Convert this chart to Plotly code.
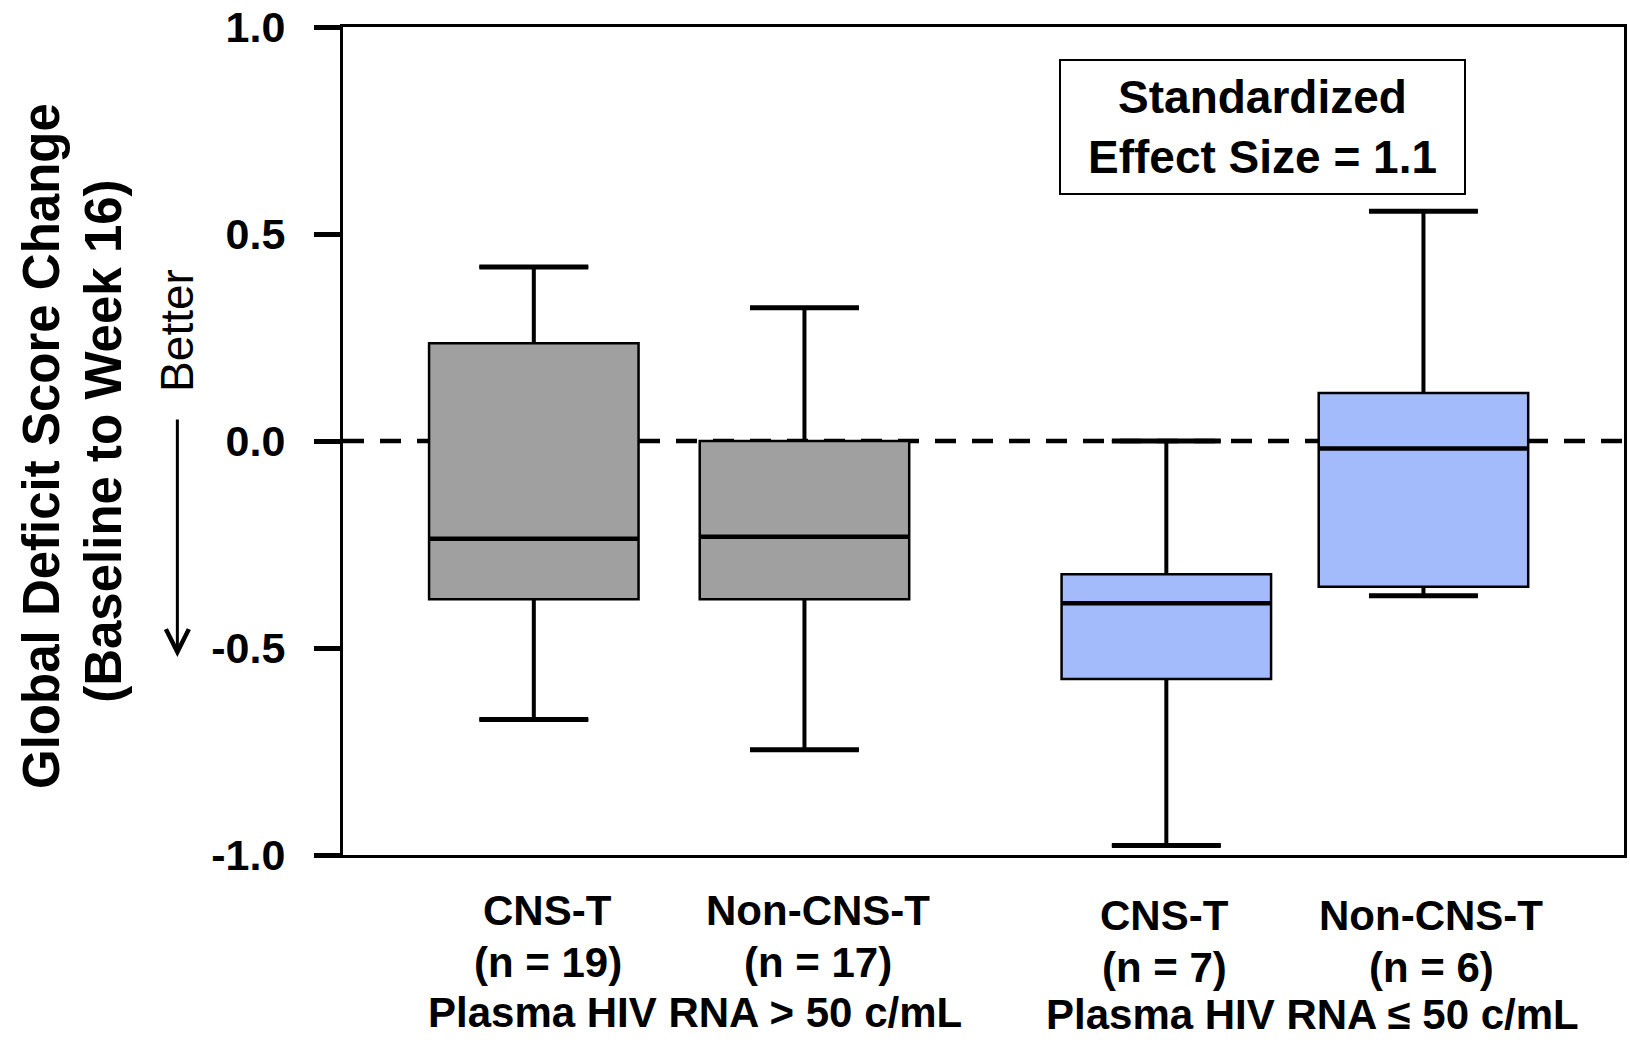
import plotly.graph_objects as go

# ---------------- data ----------------
groups = ["CNS-T", "Non-CNS-T", "CNS-T", "Non-CNS-T"]
n_labels = ["(n = 19)", "(n = 17)", "(n = 7)", "(n = 6)"]
plasma_labels = ["Plasma HIV RNA > 50 c/mL", "Plasma HIV RNA ≤ 50 c/mL"]

upper_whisker = [0.42, 0.322, 0.0, 0.555]
q3 = [0.236, 0.0, -0.322, 0.116]
median = [-0.236, -0.231, -0.392, -0.018]
q1 = [-0.382, -0.382, -0.575, -0.352]
lower_whisker = [-0.673, -0.746, -0.977, -0.374]

y_ticks = [-1.0, -0.5, 0.0, 0.5, 1.0]
y_tick_labels = ["-1.0", "-0.5", "0.0", "0.5", "1.0"]
reference_value = 0.0
effect_size = 1.1

# ---------------- layout helpers ----------------
x_pos = [1.0, 2.0, 3.337, 4.287]
box_width = 0.774
cap_frac = 0.52
gray = "#A0A0A0"
blue = "#A3BBFB"
FONT = "Liberation Sans, Arial, sans-serif"

fig = go.Figure()

# dashed reference line at zero (behind boxes)
fig.add_shape(type="line", xref="paper", x0=0, x1=1, yref="y",
              y0=reference_value, y1=reference_value,
              line=dict(color="black", width=4.5, dash="21px,16px"), layer="below")

# thicker whisker stems (drawn under boxes)
wx, wy = [], []
for i, p in enumerate(x_pos):
    wx += [p, p, None, p, p, None]
    wy += [q3[i], upper_whisker[i], None, q1[i], lower_whisker[i], None]
fig.add_trace(go.Scatter(x=wx, y=wy, mode="lines", line=dict(color="black", width=4),
                         showlegend=False, hoverinfo="skip"))

# gray boxes (plasma > 50) and blue boxes (plasma <= 50)
for idx, color in (([0, 1], gray), ([2, 3], blue)):
    fig.add_trace(go.Box(
        x=[x_pos[i] for i in idx],
        q1=[q1[i] for i in idx],
        median=[median[i] for i in idx],
        q3=[q3[i] for i in idx],
        lowerfence=[lower_whisker[i] for i in idx],
        upperfence=[upper_whisker[i] for i in idx],
        width=box_width,
        whiskerwidth=cap_frac,
        fillcolor=color,
        line=dict(color="black", width=2.5),
        boxpoints=False,
        showlegend=False,
        hoverinfo="skip",
    ))

# thicker caps
cx, cy = [], []
for i, p in enumerate(x_pos):
    hw = box_width * cap_frac / 2
    for v in (upper_whisker[i], lower_whisker[i]):
        cx += [p - hw, p + hw, None]
        cy += [v, v, None]
fig.add_trace(go.Scatter(x=cx, y=cy, mode="lines", line=dict(color="black", width=5),
                         showlegend=False, hoverinfo="skip"))

# thicker medians
mx, my = [], []
for i, p in enumerate(x_pos):
    hw = box_width / 2
    mx += [p - hw, p + hw, None]
    my += [median[i], median[i], None]
fig.add_trace(go.Scatter(x=mx, y=my, mode="lines", line=dict(color="black", width=4.5),
                         showlegend=False, hoverinfo="skip"))

annotations = []
# category labels
xshifts = [14, 14, -2, 8]
yextra = [0, 0, 5, 5]
for i, p in enumerate(x_pos):
    annotations.append(dict(x=p, xref="x", y=0, yref="paper", text=f"<b>{groups[i]}</b>",
                            showarrow=False, xanchor="center", yanchor="middle",
                            xshift=xshifts[i], yshift=-(55 + yextra[i]),
                            font=dict(family=FONT, size=42, color="black")))
    annotations.append(dict(x=p, xref="x", y=0, yref="paper", text=f"<b>{n_labels[i]}</b>",
                            showarrow=False, xanchor="center", yanchor="middle",
                            xshift=xshifts[i], yshift=-(107 + yextra[i]),
                            font=dict(family=FONT, size=42, color="black")))
# plasma group labels
group_label_x = [1.594, 3.877]
for j, lab in enumerate(plasma_labels):
    annotations.append(dict(x=group_label_x[j], xref="x", y=0, yref="paper",
                            text=f"<b>{lab}</b>", showarrow=False,
                            xanchor="center", yanchor="middle", yshift=-(157 + 2 * j),
                            font=dict(family=FONT, size=42, color="black")))

# y-axis title (two lines)
annotations.append(dict(x=0, xref="paper", y=0.494, yref="paper", xshift=-301,
                        text="<b>Global Deficit Score Change</b>", textangle=-90,
                        showarrow=False, xanchor="center", yanchor="middle",
                        font=dict(family=FONT, size=51, color="black")))
annotations.append(dict(x=0, xref="paper", y=0.499, yref="paper", xshift=-239,
                        text="<b>(Baseline to Week 16)</b>", textangle=-90,
                        showarrow=False, xanchor="center", yanchor="middle",
                        font=dict(family=FONT, size=51, color="black")))
# "Better" and arrow
annotations.append(dict(x=0, xref="paper", y=0.633, yref="paper", xshift=-166,
                        text="Better", textangle=-90, showarrow=False,
                        xanchor="center", yanchor="middle",
                        font=dict(family=FONT, size=46, color="black")))
annotations.append(dict(x=-0.1293, xref="paper", y=0.2391, yref="paper", text="",
                        showarrow=True, ax=0, ay=-239, arrowhead=5, arrowsize=1.5,
                        arrowwidth=3, arrowcolor="black", standoff=0))
# effect size box
annotations.append(dict(x=0.718, xref="paper", y=0.879, yref="paper",
                        text=f"<b>Standardized<br>Effect Size = {effect_size}</b>",
                        showarrow=False, xanchor="center", yanchor="middle",
                        width=403, height=132, borderpad=0, bordercolor="black",
                        borderwidth=2, bgcolor="white",
                        font=dict(family=FONT, size=46, color="black")))

fig.update_layout(
    width=1630, height=1040,
    margin=dict(l=343, r=3, t=27, b=185),
    paper_bgcolor="white", plot_bgcolor="white",
    annotations=annotations,
    boxmode="overlay",
    xaxis=dict(range=[0.295, 5.028], showticklabels=False, ticks="", showgrid=False,
               zeroline=False, showline=True, linecolor="black", linewidth=3, mirror=True),
    yaxis=dict(range=[-1, 1], tickvals=y_ticks, ticktext=y_tick_labels,
               ticks="outside", ticklen=26, tickwidth=5, tickcolor="black",
               ticklabelstandoff=20,
               tickfont=dict(family=FONT, size=43, color="black", weight="bold"),
               showgrid=False, zeroline=False, showline=True, linecolor="black",
               linewidth=3, mirror=True),
)

fig.write_html("out.html")
